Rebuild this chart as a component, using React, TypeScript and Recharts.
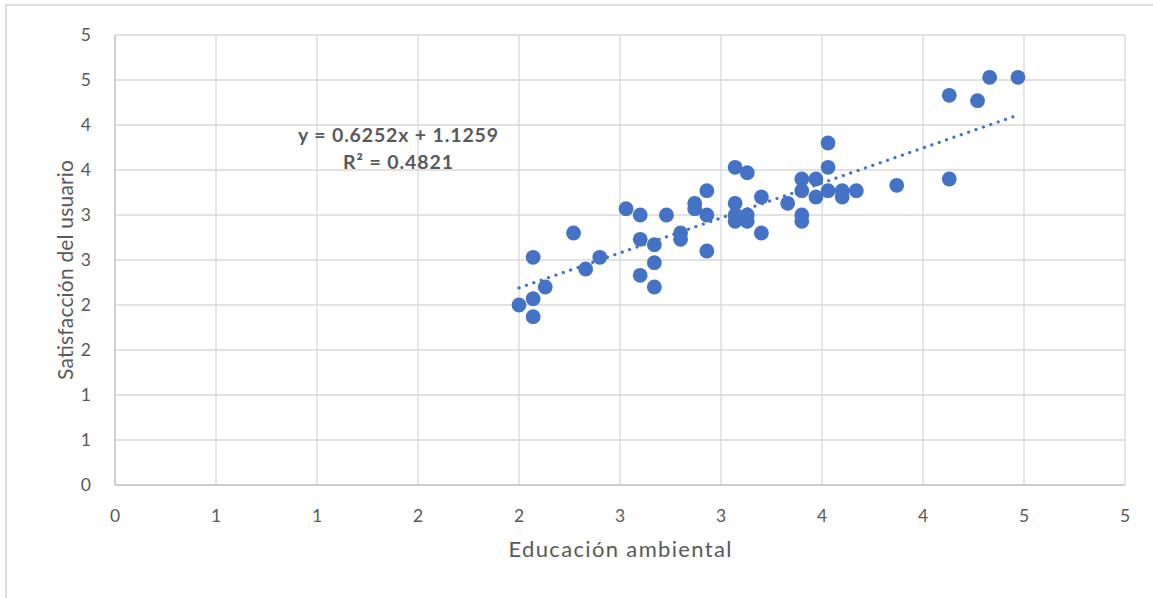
import React from 'react';
import { ScatterChart, Scatter, XAxis, YAxis, CartesianGrid } from 'recharts';

// Axis ticks (Excel-style, rounded labels)
const axisTicks = [0, 0.5, 1, 1.5, 2, 2.5, 3, 3.5, 4, 4.5, 5];
const xTickLabels = ['0', '1', '1', '2', '2', '3', '3', '4', '4', '5', '5'];
const yTickLabels = ['0', '1', '1', '2', '2', '3', '3', '4', '4', '5', '5'];

// Series: Educación ambiental (x) vs Satisfacción del usuario (y)
const educacion = [
  2.0,
  2.07, 2.07, 2.07,
  2.13,
  2.27,
  2.33,
  2.4,
  2.53,
  2.6, 2.6, 2.6,
  2.67, 2.67, 2.67,
  2.73,
  2.8, 2.8,
  2.87, 2.87,
  2.93, 2.93, 2.93,
  3.07, 3.07, 3.07, 3.07,
  3.13, 3.13, 3.13,
  3.2, 3.2,
  3.33,
  3.4, 3.4, 3.4, 3.4,
  3.47, 3.47,
  3.53, 3.53, 3.53,
  3.6, 3.6,
  3.67,
  3.87,
  4.13, 4.13,
  4.27,
  4.33,
  4.47,
];
const satisfaccion = [
  2.0,
  2.07, 1.87, 2.53,
  2.2,
  2.8,
  2.4,
  2.53,
  3.07,
  3.0, 2.73, 2.33,
  2.67, 2.47, 2.2,
  3.0,
  2.8, 2.73,
  3.13, 3.07,
  3.27, 3.0, 2.6,
  3.53, 3.13, 3.0, 2.93,
  3.47, 3.0, 2.93,
  3.2, 2.8,
  3.13,
  3.4, 3.27, 3.0, 2.93,
  3.4, 3.2,
  3.8, 3.53, 3.27,
  3.27, 3.2,
  3.27,
  3.33,
  4.33, 3.4,
  4.27,
  4.53,
  4.53,
];

// Linear trendline end points
const trendX = [2.0, 4.47];
const trendY = [2.19, 4.11];

const equationLines = ['y = 0.6252x + 1.1259', 'R² = 0.4821'];
const xTitle = 'Educación ambiental';
const yTitle = 'Satisfacción del usuario';

const points = educacion.map((x, i) => ({ x, y: satisfaccion[i] }));
const trendPoints = trendX.map((x, i) => ({ x, y: trendY[i] }));

const BLUE = '#4472C4';
const TEXT = '#595959';
const FONT = 'Lato, "Noto Sans", sans-serif';

const Dot = (props: any) => {
  const { cx, cy } = props;
  if (cx == null || cy == null) return <g />;
  return <circle cx={cx} cy={cy} r={7.4} fill={BLUE} />;
};

const NoDot = () => <g />;

export default function App() {
  return (
    <div
      style={{
        position: 'absolute',
        left: 0,
        top: 0,
        width: 1153,
        height: 598,
        overflow: 'hidden',
        background: '#fff',
      }}
    >
      <div
        style={{
          position: 'absolute',
          left: 5,
          top: 4,
          width: 1200,
          height: 700,
          border: '2px solid #dedede',
          boxSizing: 'border-box',
        }}
      />
      <div style={{ position: 'absolute', left: 0, top: 0 }}>
        <ScatterChart
          width={1153}
          height={598}
          margin={{ top: 35, right: 28, bottom: 0, left: 0 }}
        >
          <CartesianGrid stroke="#d9d9d9" strokeWidth={1.3} />
          <XAxis
            type="number"
            dataKey="x"
            domain={[0, 5]}
            ticks={axisTicks}
            interval={0}
            height={113}
            tickLine={false}
            tickSize={0}
            tickMargin={25}
            axisLine={{ stroke: '#c6c6c6', strokeWidth: 1.3 }}
            tick={{ fill: TEXT, fontSize: 17.5, fontFamily: FONT }}
            tickFormatter={(v: number, i: number) => xTickLabels[i]}
            label={{
              content: (p: any) => {
                const vb = p.viewBox || {};
                return (
                  <text
                    x={vb.x + vb.width / 2}
                    y={vb.y + 72}
                    textAnchor="middle"
                    fill={TEXT}
                    fontSize={22}
                    fontFamily={FONT}
                    textLength={223}
                    lengthAdjust="spacing"
                  >
                    {xTitle}
                  </text>
                );
              },
            }}
          />
          <YAxis
            type="number"
            dataKey="y"
            domain={[0, 5]}
            ticks={axisTicks}
            interval={0}
            width={115}
            tickLine={false}
            tickSize={0}
            tickMargin={24}
            axisLine={{ stroke: '#c6c6c6', strokeWidth: 1.3 }}
            tick={{ fill: TEXT, fontSize: 17.5, fontFamily: FONT }}
            tickFormatter={(v: number, i: number) => yTickLabels[i]}
            label={{
              content: (p: any) => {
                const vb = p.viewBox || {};
                const cx = 73;
                const cy = vb.y + vb.height / 2 + 10;
                return (
                  <text
                    x={cx}
                    y={cy}
                    transform={`rotate(-90 ${cx} ${cy})`}
                    textAnchor="middle"
                    fill={TEXT}
                    fontSize={21}
                    fontFamily={FONT}
                    textLength={220}
                    lengthAdjust="spacing"
                  >
                    {yTitle}
                  </text>
                );
              },
            }}
          />
          <Scatter
            data={points}
            fill={BLUE}
            shape={Dot}
            isAnimationActive={false}
          />
          <Scatter
            data={trendPoints}
            fill={BLUE}
            shape={NoDot}
            line={{
              stroke: BLUE,
              strokeWidth: 3.2,
              strokeDasharray: '0.1 7.7',
              strokeLinecap: 'round',
            }}
            isAnimationActive={false}
          />
        </ScatterChart>
      </div>
      <svg
        width={1153}
        height={598}
        style={{ position: 'absolute', left: 0, top: 0, pointerEvents: 'none' }}
      >
        <text
          x={398}
          y={142}
          textAnchor="middle"
          fill={TEXT}
          fontSize={19.5}
          fontWeight="bold"
          fontFamily={FONT}
          textLength={200}
          lengthAdjust="spacing"
        >
          {equationLines[0]}
        </text>
        <text
          x={398}
          y={169}
          textAnchor="middle"
          fill={TEXT}
          fontSize={19.5}
          fontWeight="bold"
          fontFamily={FONT}
          textLength={110}
          lengthAdjust="spacing"
        >
          {equationLines[1]}
        </text>
      </svg>
    </div>
  );
}
